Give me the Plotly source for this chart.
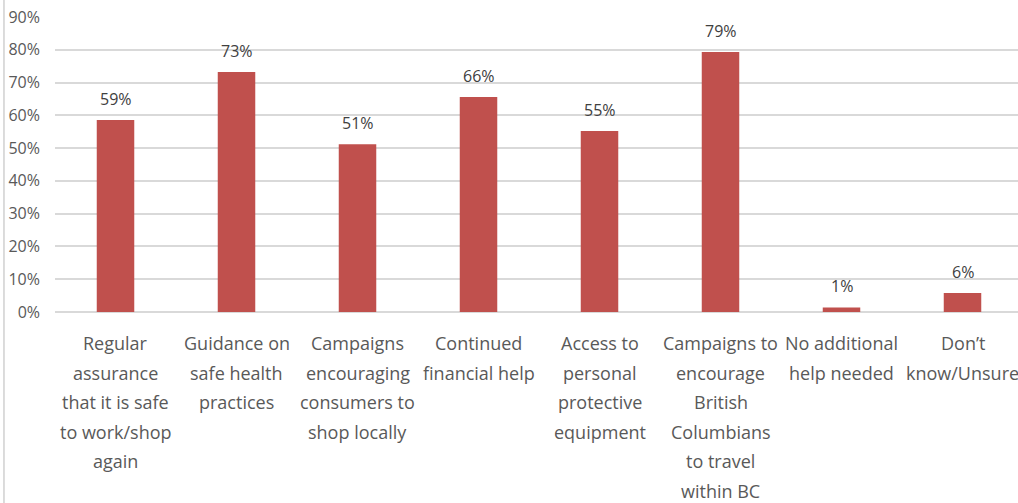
import plotly.graph_objects as go

categories = [
    "Regular assurance that it is safe to work/shop again",
    "Guidance on safe health practices",
    "Campaigns encouraging consumers to shop locally",
    "Continued financial help",
    "Access to personal protective equipment",
    "Campaigns to encourage British Columbians to travel within BC",
    "No additional help needed",
    "Don’t know/Unsure",
]
label_lines = [
    ["Regular", "assurance", "that it is safe", "to work/shop", "again"],
    ["Guidance on", "safe health", "practices"],
    ["Campaigns", "encouraging", "consumers to", "shop locally"],
    ["Continued", "financial help"],
    ["Access to", "personal", "protective", "equipment"],
    ["Campaigns to", "encourage", "British", "Columbians", "to travel", "within BC"],
    ["No additional", "help needed"],
    ["Don’t", "know/Unsure"],
]
values = [58.6, 73.2, 51.2, 65.6, 55.2, 79.3, 1.4, 5.8]
value_labels = ["59%", "73%", "51%", "66%", "55%", "79%", "1%", "6%"]
y_ticks = [0, 10, 20, 30, 40, 50, 60, 70, 80, 90]

FONT = "Open Sans"
TEXT_GRAY = "#595959"

fig = go.Figure()
fig.add_trace(go.Bar(
    x=categories, y=values, width=0.31,
    marker=dict(color="#C0504D", line=dict(width=0)),
    hoverinfo="skip",
))

annotations = []
for cat, v, lab in zip(categories, values, value_labels):
    annotations.append(dict(
        x=cat, y=v, xref="x", yref="y", text=lab, showarrow=False,
        yanchor="bottom", yshift=8,
        font=dict(family=FONT, size=16, color="#404040"),
    ))
for cat, lines in zip(categories, label_lines):
    for i, line in enumerate(lines):
        annotations.append(dict(
            x=cat, y=0, xref="x", yref="y", text=line, showarrow=False,
            yanchor="middle", xanchor="center", yshift=-(31 + 29.6 * i),
            font=dict(family=FONT, size=18, color=TEXT_GRAY),
        ))

fig.update_layout(
    width=1018, height=503,
    margin=dict(l=55, r=0, t=17, b=191),
    paper_bgcolor="white", plot_bgcolor="white",
    showlegend=False,
    font=dict(family=FONT, color=TEXT_GRAY),
    annotations=annotations,
    shapes=[dict(type="line", xref="paper", yref="paper",
                 x0=-0.053, x1=-0.053, y0=-1.0, y1=1.1,
                 line=dict(color="#D0D0D0", width=1.5))],
    xaxis=dict(
        type="category", range=[-0.5, -0.5 + 963 / 121],
        showticklabels=False, showgrid=False, zeroline=False,
        showline=False, ticks="",
    ),
    yaxis=dict(
        range=[0, 90], tickvals=y_ticks,
        ticktext=[f"{t}%" for t in y_ticks],
        showgrid=True, gridcolor="#D9D9D9", gridwidth=1.5,
        zeroline=True, zerolinecolor="#D9D9D9", zerolinewidth=1.5,
        showline=False, ticks="", ticklabelstandoff=14,
        tickfont=dict(family=FONT, size=16, color=TEXT_GRAY),
    ),
)

fig.write_html(
    "out.html",
    config={"displayModeBar": False},
    post_script="document.body.style.margin='0';document.body.style.overflow='hidden';",
)
